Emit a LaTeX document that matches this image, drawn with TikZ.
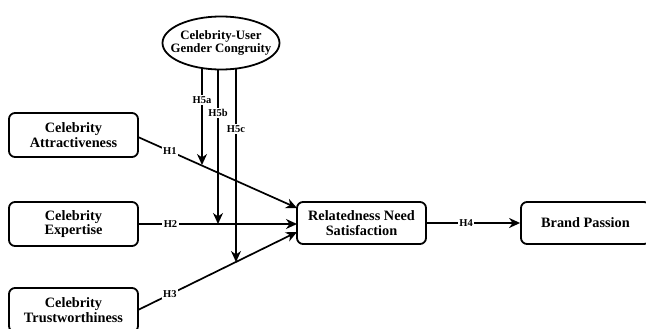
\documentclass[tikz,border=0pt]{standalone}
\usepackage{fontspec}
\setmainfont{Liberation Serif}
\usetikzlibrary{arrows.meta}
\begin{document}
\begin{tikzpicture}[x=1pt,y=-1pt,
  box/.style={draw,line width=1.8pt,rounded corners=6pt,minimum width=129pt,minimum height=44pt,
    align=center,font=\fontsize{14.3}{14.5}\selectfont\bfseries,inner sep=0pt},
  ell/.style={align=center,font=\fontsize{12.8}{13.5}\selectfont\bfseries,inner sep=0pt},
  arr/.style={line width=1.7pt,-{Stealth[length=11pt,width=10pt,inset=3.5pt]}},
  lab/.style={fill=white,font=\fontsize{10.5}{11}\selectfont\bfseries,inner sep=1.5pt}]
\clip (0,0) rectangle (646,329);
\fill[white] (0,0) rectangle (646,329);
% nodes
\node[box] (att) at (73.5,135) {Celebrity\\Attractiveness};
\node[box] (exp) at (73.5,224) {Celebrity\\Expertise};
\node[box] (tru) at (73.5,310) {Celebrity\\Trustworthiness};
\node[box,minimum height=42pt] (rns) at (361.5,223) {Relatedness Need\\Satisfaction};
\node[box,minimum height=42pt] (bp) at (585.5,223) {Brand Passion};
% coordinates
\coordinate (a1) at (138,137);
\coordinate (r1) at (297,208);
\coordinate (r2) at (297,224);
\coordinate (t1) at (138,310);
\coordinate (r3) at (297,232);
\coordinate (s1) at (202,60);
\coordinate (s2) at (218,60);
\coordinate (s3) at (236,60);
\coordinate (e1) at (202,165);
\coordinate (e2) at (218,224);
\coordinate (e3) at (236,262);
\coordinate (gcc) at (221,43);
% main paths
\draw[arr] (a1) -- node[lab,pos=0.2] {H1} (r1);
\draw[arr] (exp.east) -- node[lab,pos=0.2] {H2} (r2);
\draw[arr] (t1) -- node[lab,pos=0.2] {H3} (r3);
\draw[arr] (rns.east) -- node[lab,pos=0.42] {H4} (bp.west);
% moderation
\draw[arr] (s1) -- (e1);
\draw[arr] (s2) -- (e2);
\draw[arr] (s3) -- (e3);
\node[lab] at (202,100) {H5a};
\node[lab] at (218,113) {H5b};
\node[lab] at (236,129) {H5c};
% moderator ellipse
\filldraw[fill=white,line width=1.8pt] (gcc) ellipse [x radius=58.5, y radius=26.5];
\node[ell] (gc) at (gcc) {Celebrity-User\\Gender Congruity};
\end{tikzpicture}
\end{document}
